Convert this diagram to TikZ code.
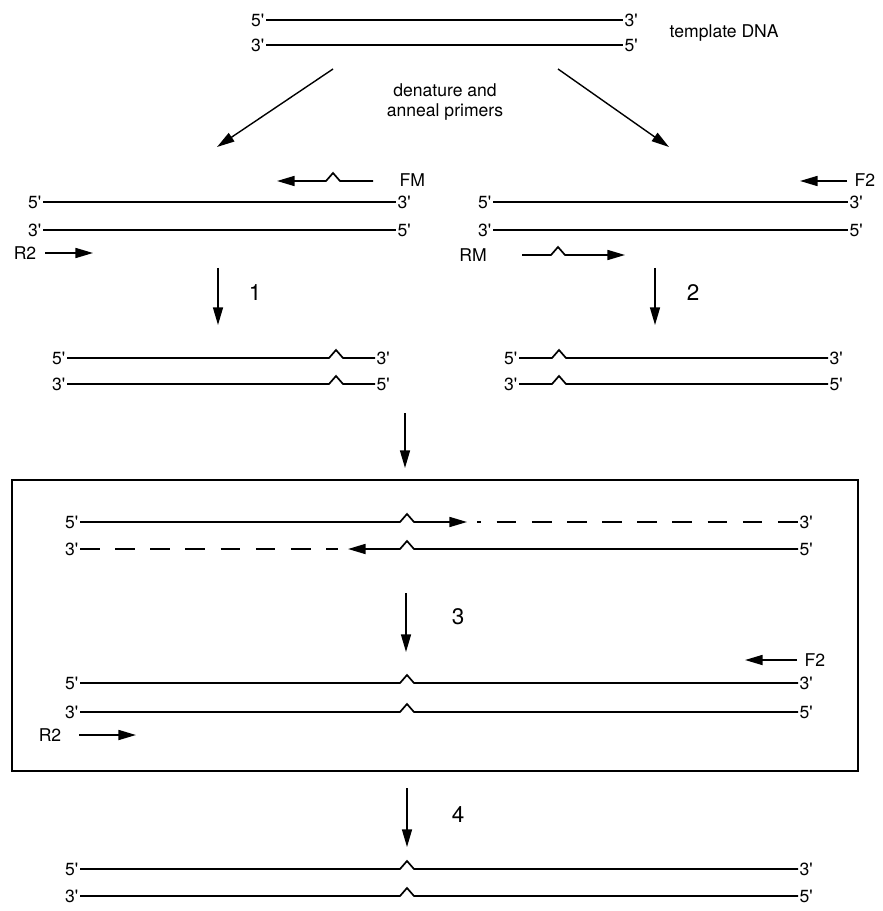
\documentclass[tikz,border=0pt]{standalone}
\usepackage{fontspec}
\setmainfont{TeX Gyre Heros}
\usetikzlibrary{arrows.meta,calc}
\newcommand{\prm}{\textquotesingle}

\begin{document}
\begin{tikzpicture}[x=0.025cm,y=-0.025cm,>={Triangle[length=4.4mm,width=2.5mm]},line join=miter,
  strand/.style={line width=1.2pt},
  gapped/.style={strand,dash pattern=on 14pt off 11pt},
  lab/.style={inner sep=1pt,font=\fontsize{12.5}{14}\selectfont},
  num/.style={inner sep=1pt,font=\fontsize{16}{18}\selectfont},
  stepar/.style={line width=1pt,->},
  kinkr/.style={insert path={-- ++(7,-8) -- ++(7,8)}},
  kinkl/.style={insert path={-- ++(-7,-8) -- ++(-7,8)}}]
\useasboundingbox (0,0) rectangle (882,911);
% template
\node[lab,anchor=east] (t5a) at (266,20) {5\prm};
\node[lab,anchor=west] (t3a) at (623,20) {3\prm};
\node[lab,anchor=east] (t3b) at (266,45) {3\prm};
\node[lab,anchor=west] (t5b) at (623,45) {5\prm};
\draw[strand] (t5a) -- (t3a);
\draw[strand] (t3b) -- (t5b);
\node[lab,anchor=west] (tdna) at (668,33) {template DNA};
\node[lab] (den) at (445,90) {denature and};
\node[lab] (ann) at (445,112) {anneal primers};
\coordinate (dl) at (333,69); \coordinate (pl) at (217,147);
\coordinate (dr) at (558,69); \coordinate (pr) at (669,147);
\draw[stepar] (dl) -- (pl);
\draw[stepar] (dr) -- (pr);
% left panel
\node[lab,anchor=west] (fm) at (398,180) {FM};
\draw[strand,->] (373,181) -- (340,181) [kinkl] -- (277,181);
\node[lab,anchor=east] (a5a) at (43,202) {5\prm};
\node[lab,anchor=west] (a3a) at (396,202) {3\prm};
\node[lab,anchor=east] (a3b) at (43,230) {3\prm};
\node[lab,anchor=west] (a5b) at (396,230) {5\prm};
\draw[strand] (a5a) -- (a3a);
\draw[strand] (a3b) -- (a5b);
\node[lab] (ar2) at (25,253) {R2};
\draw[strand,->] (45,253) -- (93,253);
\coordinate (s1a) at (218,268); \coordinate (s1b) at (218,325);
\draw[stepar] (s1a) -- (s1b);
\node[num] (n1) at (255,293) {1};
% right panel
\node[lab,anchor=west] (bf2) at (853,180) {F2};
\draw[strand,->] (847,181) -- (800,181);
\node[lab,anchor=east] (b5a) at (493,202) {5\prm};
\node[lab,anchor=west] (b3a) at (848,202) {3\prm};
\node[lab,anchor=east] (b3b) at (493,230) {3\prm};
\node[lab,anchor=west] (b5b) at (848,230) {5\prm};
\draw[strand] (b5a) -- (b3a);
\draw[strand] (b3b) -- (b5b);
\node[lab] (brm) at (473,255) {RM};
\draw[strand,->] (522,255) -- (551,255) [kinkr] -- (625,255);
\coordinate (s2a) at (655,268); \coordinate (s2b) at (655,325);
\draw[stepar] (s2a) -- (s2b);
\node[num] (n2) at (693,293) {2};
% products of 1 and 2
\foreach \y/\p/\q in {358/5/3,384/3/5}{
  \node[lab,anchor=east] (c\p l) at (67,\y) {\p\prm};
  \node[lab,anchor=west] (c\q r) at (375,\y) {\q\prm};
  \draw[strand] (c\p l) -- (329,\y) [kinkr] -- (c\q r);
  \node[lab,anchor=east] (d\p l) at (519,\y) {\p\prm};
  \node[lab,anchor=west] (d\q r) at (828,\y) {\q\prm};
  \draw[strand] (d\p l) -- (552,\y) [kinkr] -- (d\q r);
}
\coordinate (mxa) at (405,413); \coordinate (mxb) at (405,468);
\draw[stepar] (mxa) -- (mxb);
% boxed cycle
\draw[line width=1.1pt] (12,480) rectangle (858,771);
\node[lab,anchor=east] (e5a) at (80,522) {5\prm};
\node[lab,anchor=west] (e3a) at (798,522) {3\prm};
\node[lab,anchor=east] (e3b) at (80,549) {3\prm};
\node[lab,anchor=west] (e5b) at (798,549) {5\prm};
\draw[strand,->] (e5a) -- (400,522) [kinkr] -- (467,522);
\draw[gapped,dash phase=11pt] (477,522) -- (e3a);
\draw[strand,->] (e5b) -- (414,549) [kinkl] -- (348,549);
\draw[gapped] (e3b) -- (338,549);
\coordinate (s3a) at (406,593); \coordinate (s3b) at (406,652);
\draw[stepar] (s3a) -- (s3b);
\node[num] (n3) at (458,617) {3};
\node[lab,anchor=west] (ef2) at (803,660) {F2};
\draw[strand,->] (797,660) -- (745,660);
\node[lab] (er2) at (50,735) {R2};
\draw[strand,->] (79,735) -- (136,735);
\coordinate (s4a) at (407,788); \coordinate (s4b) at (407,847);
\draw[stepar] (s4a) -- (s4b);
\node[num] (n4) at (458,815) {4};
% full length rows
\foreach \y/\p/\q in {683/5/3,712/3/5,869/5/3,896/3/5}{
  \node[lab,anchor=east] (f\y l) at (80,\y) {\p\prm};
  \node[lab,anchor=west] (f\y r) at (798,\y) {\q\prm};
  \draw[strand] (f\y l) -- (400,\y) [kinkr] -- (f\y r);
}
\end{tikzpicture}
\end{document}
